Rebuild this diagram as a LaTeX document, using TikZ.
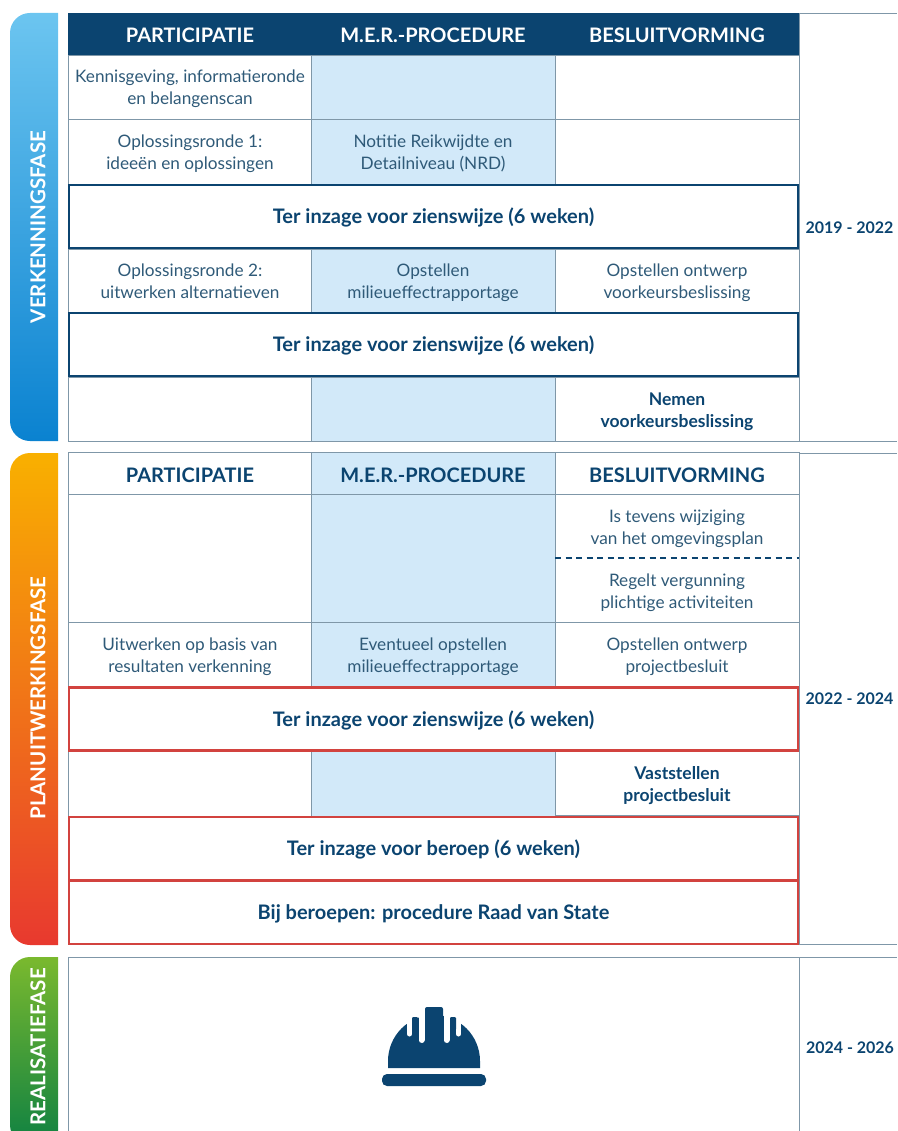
\documentclass[tikz,border=0pt]{standalone}
\usepackage{fontspec}
\setmainfont{Lato}
\definecolor{navy}{HTML}{0B4470}
\definecolor{inktext}{HTML}{2F5A78}
\definecolor{gridline}{HTML}{7F97A8}
\definecolor{merblue}{HTML}{D2E9F9}
\definecolor{redline}{HTML}{D2433F}
\definecolor{bluetop}{HTML}{6CC5F0}
\definecolor{bluebot}{HTML}{0A82D0}
\definecolor{orangetop}{HTML}{F9B000}
\definecolor{orangebot}{HTML}{E8392F}
\definecolor{greentop}{HTML}{7AB92E}
\definecolor{greenbot}{HTML}{0F8142}
\tikzset{
	strutted/.style={execute at begin node={\rule{0pt}{#1}}, execute at end node={\rule[-5pt]{0pt}{5pt}}},
	cell/.style={draw=gridline, line width=0.8pt, minimum height=#1, minimum width=244pt, inner sep=0pt, outer sep=0pt, align=center, text=inktext, font=\fontsize{17.2}{22}\selectfont},
	col/.style={cell=#1, text height=41pt, text depth=5pt},
	mer/.style={col=#1, fill=merblue},
	head/.style={cell=42pt, strutted=23pt, text=navy, font=\fontsize{20}{22}\selectfont\bfseries},
	darkhead/.style={head, draw=navy, fill=navy, text=white},
	strong/.style={col=64pt, text=navy, font=\fontsize{17.5}{22}\selectfont\bfseries},
	inzage/.style={draw=#1, line width=2.4pt, fill=white, minimum width=729pt, minimum height=63pt, inner sep=0pt, outer sep=0pt, strutted=19pt, text=navy, font=\fontsize{20}{22}\selectfont\bfseries},
	fase/.style={rotate=90, text=white, font=\fontsize{20.5}{22}\selectfont\bfseries},
	jaar/.style={text=navy, font=\fontsize{16}{20}\selectfont\bfseries},
	yearline/.style={draw=gridline, line width=0.8pt}
}
\begin{document}
\begin{tikzpicture}[x=1pt, y=-1pt]
	\useasboundingbox (0,0) rectangle (897,1131);
	% fase bars
	\shade[top color=bluetop, bottom color=bluebot] (58,13) -- (58,441) {[rounded corners=20pt] -- (10,441) -- (10,13)} -- cycle;
	\shade[top color=orangetop, bottom color=orangebot] (58,453) -- (58,945) {[rounded corners=20pt] -- (10,945) -- (10,453)} -- cycle;
	\shade[top color=greentop, bottom color=greenbot] (58,957) -- (58,1145) {[rounded corners=20pt] -- (10,1145) -- (10,957)} -- cycle;
	\node[fase] (verkenning) at (38,227) {VERKENNINGSFASE};
	\node[fase] (planuitwerking) at (38,698) {PLANUITWERKINGSFASE};
	\node[fase] (realisatie) at (38,1047) {REALISATIEFASE};
	% verkenningsfase
	\node[darkhead] (A0) at (190,34) {PARTICIPATIE};
	\node[darkhead] (B0) at (433,34) {M.E.R.-PROCEDURE};
	\node[darkhead] (C0) at (677,34) {BESLUITVORMING};
	\node[col=64pt] (A1) at (190,87) {Kennisgeving, informatieronde\\en belangenscan};
	\node[mer=64pt] (B1) at (433,87) {};
	\node[col=64pt] (C1) at (677,87) {};
	\node[col=65pt] (A2) at (190,151.5) {Oplossingsronde 1:\\ideeën en oplossingen};
	\node[mer=65pt] (B2) at (433,151.5) {Notitie Reikwijdte en\\Detailniveau (NRD)};
	\node[col=65pt] (C2) at (677,151.5) {};
	\node[col=63pt] (A3) at (190,280.5) {Oplossingsronde 2:\\uitwerken alternatieven};
	\node[mer=63pt] (B3) at (433,280.5) {Opstellen\\milieueffectrapportage};
	\node[col=63pt] (C3) at (677,280.5) {Opstellen ontwerp\\voorkeursbeslissing};
	\node[col=64pt] (A4) at (190,409) {};
	\node[mer=64pt] (B4) at (433,409) {};
	\node[strong] (C4) at (677,409) {Nemen\\voorkeursbeslissing};
	\node[inzage=navy] (I1) at (433.5,216.5) {Ter inzage voor zienswijze (6 weken)};
	\node[inzage=navy] (I2) at (433.5,344.5) {Ter inzage voor zienswijze (6 weken)};
	% planuitwerkingsfase
	\node[head] (D0) at (190,473.5) {PARTICIPATIE};
	\node[head, fill=merblue] (E0) at (433,473.5) {M.E.R.-PROCEDURE};
	\node[head] (F0) at (677,473.5) {BESLUITVORMING};
	\node[col=128pt] (D1) at (190,558) {};
	\node[mer=128pt] (E1) at (433,558) {};
	\node[col=64pt, draw=none] (F1) at (677,526) {Is tevens wijziging\\van het omgevingsplan};
	\node[col=64pt, draw=none] (F2) at (677,590) {Regelt vergunning\\plichtige activiteiten};
	\draw[gridline, line width=0.8pt] (F1.north west) -- (F2.south west) -- (F2.south east) -- (F1.north east);
	\draw[navy, line width=1.2pt, dash pattern=on 6pt off 4.5pt] (F1.south west) -- (F1.south east);
	\node[col=64pt] (D2) at (190,654) {Uitwerken op basis van\\resultaten verkenning};
	\node[mer=64pt] (E2) at (433,654) {Eventueel opstellen\\milieueffectrapportage};
	\node[col=64pt] (F3) at (677,654) {Opstellen ontwerp\\projectbesluit};
	\node[col=65pt] (D3) at (190,783.5) {};
	\node[mer=65pt] (E3) at (433,783.5) {};
	\node[strong] (F4) at (677,783.5) {Vaststellen\\projectbesluit};
	\node[inzage=redline] (I3) at (433.5,719) {Ter inzage voor zienswijze (6 weken)};
	\node[inzage=redline] (I4) at (433.5,848.5) {Ter inzage voor beroep (6 weken)};
	\node[inzage=redline] (I5) at (433.5,912.5) {Bij beroepen: procedure Raad van State};
	% realisatiefase
	\node[draw=gridline, line width=0.8pt, minimum width=731pt, minimum height=190pt, inner sep=0pt, outer sep=0pt] (R) at (433.5,1052) {};
	% jaren
	\coordinate (e1) at (897,13);
	\coordinate (e2) at (897,441);
	\coordinate (e3) at (897,453);
	\coordinate (e4) at (897,944);
	\coordinate (e5) at (897,957);
	\coordinate (t1) at (799,13);
	\coordinate (t2) at (799,441);
	\coordinate (t3) at (799,453);
	\coordinate (t4) at (799,944);
	\coordinate (t5) at (799,957);
	\draw[yearline] (t1) -- (e1);
	\draw[yearline] (t2) -- (e2);
	\draw[yearline] (t3) -- (e3);
	\draw[yearline] (t4) -- (e4);
	\draw[yearline] (t5) -- (e5);
	\draw[yearline] (t1) -- (t2);
	\draw[yearline] (t3) -- (t4);
	\node[jaar] (J1) at (849.5,228) {2019 - 2022};
	\node[jaar] (J2) at (849.5,699) {2022 - 2024};
	\node[jaar] (J3) at (850,1048) {2024 - 2026};
	% helm
	\fill[navy] (388,1068) -- (388,1061) arc[start angle=180, end angle=360, radius=46] -- (480,1068) -- cycle;
	\fill[navy, rounded corners=5pt] (382,1074) rectangle (486,1086);
	\draw[white, line width=6pt, line cap=round] (421.5,1000) -- (421.5,1040);
	\draw[white, line width=6pt, line cap=round] (446.5,1000) -- (446.5,1040);
	\draw[white, line width=5pt, line cap=round] (409.5,1000) -- (409.5,1034);
	\draw[white, line width=5pt, line cap=round] (458.5,1000) -- (458.5,1034);
	\fill[white] (407,1000) rectangle (461,1012);
	\fill[navy, rounded corners=2pt] (425,1007) rectangle (443,1030);
	\fill[navy, rounded corners=1pt] (412,1017) rectangle (418,1030);
	\fill[navy, rounded corners=1pt] (450,1017) rectangle (456,1030);
\end{tikzpicture}
\end{document}
